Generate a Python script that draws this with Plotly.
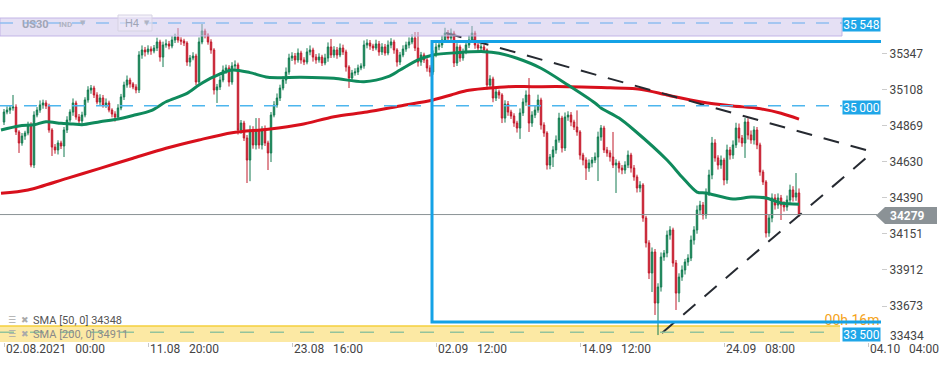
import plotly.graph_objects as go

# ---------------- data ----------------
first_open = 34892
closes = [
    34958, 34971, 34985, 34991, 34826, 34753, 34799, 34819, 34872, 34607,
    34938, 34971, 35005, 35018, 34998, 34839, 34726, 34707, 34753, 34733,
    34839, 34905, 34958, 35018, 34925, 34899, 34938, 35038, 35104, 35117,
    35071, 35024, 35051, 35005, 35018, 34971, 34945, 34925, 34985, 35058,
    35137, 35170, 35144, 35124, 35104, 35336, 35369, 35356, 35375, 35362,
    35382, 35422, 35322, 35402, 35409, 35395, 35435, 35455, 35435, 35428,
    35415, 35289, 35316, 35329, 35157, 35422, 35495, 35468, 35422, 35369,
    35104, 35124, 35170, 35236, 35250, 35157, 35263, 35270, 34839, 34885,
    34786, 34640, 34839, 34740, 34839, 34740, 34839, 34753, 34687, 34938,
    35005, 35051, 35117, 35170, 35223, 35316, 35329, 35303, 35349, 35303,
    35289, 35356, 35369, 35322, 35303, 35322, 35283, 35316, 35389, 35336,
    35369, 35336, 35382, 35356, 35256, 35183, 35217, 35223, 35250, 35263,
    35402, 35415, 35395, 35382, 35409, 35356, 35389, 35349, 35402, 35422,
    35369, 35289, 35336, 35375, 35402, 35422, 35448, 35382, 35289, 35336,
    35303, 35250, 35223, 35336, 35389, 35402, 35435, 35481, 35448, 35481,
    35283, 35389, 35316, 35356, 35402, 35435, 35481, 35402, 35382, 35389,
    35369, 35137, 35177, 35051, 35091, 35071, 34918, 35011, 34958, 34932,
    34885, 34852, 34952, 35024, 35071, 34885, 34938, 34971, 35038, 34872,
    34819, 34607, 34660, 34707, 34773, 34918, 34720, 34925, 34938, 34892,
    34859, 34826, 34673, 34640, 34587, 34620, 34640, 34660, 34793, 34852,
    34707, 34687, 34660, 34607, 34620, 34587, 34574, 34607, 34673, 34587,
    34528, 34455, 34475, 34256, 34091, 33892, 34031, 33693, 33799, 33998,
    34024, 34143, 34177, 33958, 33759, 33865, 33912, 33965, 33991, 34110,
    34177, 34309, 34342, 34276, 34422, 34541, 34753, 34654, 34607, 34640,
    34508, 34707, 34673, 34740, 34852, 34786, 34753, 34892, 34806, 34773,
    34839, 34740, 34561, 34495, 34157, 34256, 34389, 34342, 34389, 34342,
    34329, 34375, 34442, 34395, 34422, 34279,
]
upper_wick = [
    20, 25, 15, 80, 18, 12, 20, 15, 22, 18,
    25, 20, 30, 22, 18, 15, 12, 20, 18, 15,
    20, 25, 18, 30, 15, 20, 22, 18, 25, 20,
    15, 18, 25, 20, 30, 15, 12, 18, 25, 20,
    22, 30, 15, 12, 18, 25, 30, 20, 25, 18,
    20, 28, 15, 22, 30, 20, 25, 22, 59, 18,
    15, 12, 20, 25, 15, 30, 46, 15, 12, 18,
    12, 20, 25, 30, 22, 18, 25, 30, 15, 20,
    15, 20, 30, 25, 79, 79, 25, 30, 15, 20,
    25, 30, 22, 25, 30, 28, 25, 20, 30, 15,
    18, 25, 30, 15, 20, 25, 15, 28, 30, 53,
    25, 20, 30, 22, 15, 12, 20, 25, 22, 18,
    30, 25, 20, 15, 28, 20, 25, 20, 30, 25,
    15, 12, 20, 25, 22, 30, 25, 40, 106, 20,
    15, 12, 18, 30, 25, 22, 30, 35, 20, 30,
    15, 25, 15, 22, 28, 30, 47, 15, 18, 20,
    15, 10, 25, 15, 30, 15, 12, 25, 20, 15,
    18, 15, 30, 25, 30, 112, 25, 30, 35, 15,
    18, 12, 20, 25, 30, 35, 15, 30, 25, 20,
    15, 110, 12, 15, 18, 25, 20, 30, 35, 20,
    15, 20, 18, 166, 25, 15, 20, 25, 30, 15,
    20, 15, 25, 12, 15, 18, 30, 20, 25, 30,
    20, 30, 25, 15, 20, 25, 30, 20, 25, 30,
    25, 30, 28, 20, 30, 35, 40, 25, 18, 30,
    15, 35, 20, 30, 35, 30, 20, 26, 25, 30,
    25, 20, 15, 15, 12, 25, 30, 25, 30, 20,
    25, 30, 35, 25, 132, 30,
]
lower_wick = [
    20, 15, 25, 18, 20, 66, 18, 25, 15, 15,
    20, 15, 18, 25, 20, 18, 59, 25, 30, 20,
    73, 20, 15, 25, 18, 30, 20, 15, 18, 25,
    20, 15, 25, 18, 20, 15, 22, 30, 18, 15,
    20, 18, 25, 15, 22, 20, 25, 30, 18, 25,
    15, 20, 30, 66, 18, 22, 15, 20, 18, 25,
    20, 25, 30, 15, 20, 18, 15, 22, 18, 25,
    30, 86, 20, 15, 25, 30, 18, 20, 30, 25,
    20, 152, 140, 25, 30, 25, 30, 20, 113, 60,
    15, 18, 20, 15, 25, 18, 20, 30, 18, 25,
    20, 15, 22, 30, 25, 18, 20, 15, 25, 20,
    18, 25, 15, 20, 30, 66, 25, 18, 20, 15,
    18, 22, 25, 20, 15, 25, 20, 18, 15, 22,
    25, 30, 20, 15, 18, 22, 15, 20, 30, 25,
    20, 25, 30, 18, 15, 22, 20, 18, 25, 15,
    27, 20, 25, 18, 15, 20, 18, 25, 20, 22,
    20, 30, 25, 28, 20, 25, 33, 30, 25, 20,
    25, 30, 72, 20, 25, 59, 25, 20, 18, 30,
    25, 30, 28, 66, 25, 18, 30, 20, 25, 28,
    20, 25, 30, 35, 79, 25, 28, 20, 159, 25,
    20, 25, 30, 20, 185, 30, 28, 25, 20, 30,
    25, 30, 28, 25, 30, 40, 126, 79, 212, 30,
    25, 28, 30, 25, 112, 60, 25, 30, 25, 20,
    30, 25, 28, 30, 25, 20, 28, 25, 30, 25,
    35, 25, 30, 25, 20, 30, 25, 99, 30, 25,
    30, 28, 25, 20, 30, 25, 28, 30, 25, 99,
    30, 25, 20, 30, 25, 15,
]

# moving averages (candle index -> value)
sma50_idx = [-1, 5, 10, 14, 19, 23, 26, 32, 38, 43, 49, 54, 61, 65, 70, 76, 82, 88, 99,
             110, 120, 128, 132, 138, 143, 151, 160, 165, 171, 179, 188, 197, 199, 205,
             210, 221, 226, 231, 234, 243, 249, 254, 259, 265]
sma50 = [34839, 34866, 34874, 34894, 34883, 34879, 34874, 34894, 34912, 34935, 34967,
         35026, 35082, 35137, 35192, 35236, 35219, 35188, 35188, 35181, 35159, 35192,
         35236, 35303, 35336, 35351, 35358, 35347, 35314, 35248, 35137, 35018, 34985,
         34918, 34839, 34640, 34528, 34428, 34422, 34382, 34395, 34389, 34356, 34348]
sma200_idx = [-1, 8, 21, 32, 43, 54, 65, 76, 88, 99, 110, 121, 132, 143, 149, 154, 161,
              168, 176, 188, 199, 212, 221, 232, 243, 251, 259, 265]
sma200 = [34420, 34442, 34519, 34585, 34652, 34718, 34773, 34821, 34844, 34875, 34927,
          34958, 34998, 35038, 35071, 35099, 35115, 35126, 35126, 35126, 35120, 35109,
          35071, 35026, 34998, 34983, 34950, 34911]

x_tick_idx = [0, 48, 96, 144, 192, 240, 288]
x_tick_text = ["02.08.2021\u00a0\u00a0 00:00", "11.08\u00a0\u00a0 20:00", "23.08\u00a0\u00a0 16:00",
               "02.09\u00a0\u00a0 12:00", "14.09\u00a0\u00a0 12:00", "24.09\u00a0\u00a0 08:00",
               "04.10\u00a0\u00a0 04:00"]
y_ticks = [35347, 35108, 34869, 34630, 34390, 34151, 33912, 33673]
y_tick_low = 33434

resistance = 35548
level_mid = 35000
support = 33500
last_price = 34279
sma50_last = 34348
sma200_last = 34911

# ---------------- derived ohlc ----------------
n = len(closes)
idx = list(range(n))
opens = [first_open] + closes[:-1]
highs = [max(o, c) + u for o, c, u in zip(opens, closes, upper_wick)]
lows = [min(o, c) - l for o, c, l in zip(opens, closes, lower_wick)]

# ---------------- layout geometry ----------------
W, H = 950, 367
PW, PH = 881, 342          # plot area in px
XR = [-4 / 3, (PW - 4) / 3]
YR = [33435, 35700]


def pxx(p):  # pixel x -> paper
    return p / PW


def pxy(p):  # pixel y -> paper
    return 1 - p / PH


def xk(p):  # pixel x -> candle axis
    return (p - 4) / 3


def yv(p):  # pixel y -> price axis
    return YR[1] - p * (YR[1] - YR[0]) / PH


FONT = "Roboto"

fig = go.Figure()
fig.add_trace(go.Candlestick(
    x=idx, open=opens, high=highs, low=lows, close=closes,
    increasing=dict(line=dict(color="#137a50", width=1), fillcolor="#25a06a"),
    decreasing=dict(line=dict(color="#c01a2b", width=1), fillcolor="#e63a4c"),
    whiskerwidth=0, hoverinfo="skip", showlegend=False))
fig.add_trace(go.Scatter(x=sma200_idx, y=sma200, mode="lines",
                         line=dict(color="#d8101c", width=3, shape="spline", smoothing=0.8),
                         hoverinfo="skip", showlegend=False))
fig.add_trace(go.Scatter(x=sma50_idx, y=sma50, mode="lines",
                         line=dict(color="#0f8a5c", width=3, shape="spline", smoothing=0.8),
                         hoverinfo="skip", showlegend=False))
fig.add_trace(go.Scatter(x=[xk(852)], y=[yv(321)], mode="text", text=["00h 16m"],
                         textfont=dict(color="#f5a31a", size=14, family=FONT),
                         textposition="middle center", hoverinfo="skip",
                         showlegend=False, cliponaxis=False))

shapes = []
# yellow support zone
shapes.append(dict(type="rect", xref="paper", yref="y", x0=0, x1=pxx(840),
                   y0=YR[0] - 50, y1=yv(326), fillcolor="#fce9a4",
                   line=dict(width=0), layer="below"))
shapes.append(dict(type="line", xref="paper", yref="y", x0=0, x1=pxx(840),
                   y0=yv(326), y1=yv(326), line=dict(color="#f5cf3c", width=1.5), layer="below"))
# triangle lines
shapes.append(dict(type="line", xref="x", yref="y", x0=xk(446), y0=yv(33), x1=xk(873), y1=yv(152),
                   line=dict(color="#262a31", width=2, dash="16px,12px")))
shapes.append(dict(type="line", xref="x", yref="y", x0=xk(662), y0=support - 5, x1=xk(873), y1=yv(152),
                   line=dict(color="#262a31", width=2, dash="16px,12px")))
# lavender resistance zone
shapes.append(dict(type="rect", xref="paper", yref="y", x0=0, x1=pxx(842),
                   y0=yv(36), y1=yv(18), fillcolor="rgba(206,195,234,0.52)",
                   line=dict(color="rgba(190,175,228,0.9)", width=1)))
# dashed horizontal levels
shapes.append(dict(type="line", xref="paper", yref="y", x0=0, x1=pxx(842), y0=resistance, y1=resistance,
                   line=dict(color="#8fbdf0", width=1.5, dash="13px,11px")))
shapes.append(dict(type="line", xref="paper", yref="y", x0=0, x1=pxx(842), y0=level_mid, y1=level_mid,
                   line=dict(color="#4db6ee", width=1.5, dash="13px,11px")))
shapes.append(dict(type="line", xref="paper", yref="y", x0=0, x1=pxx(840), y0=support, y1=support,
                   line=dict(color="#93c39c", width=1.5, dash="14px,16px")))
# last price line
shapes.append(dict(type="line", xref="paper", yref="y", x0=0, x1=pxx(877), y0=last_price, y1=last_price,
                   line=dict(color="#8a9296", width=1)))
# blue box (open on the right)
bx0, bx1 = xk(432), XR[1] + 2
bt, bb = yv(41.5), yv(322)
shapes.append(dict(type="path", xref="x", yref="y",
                   path=f"M {bx1},{bt} L {bx0},{bt} L {bx0},{bb} L {bx1},{bb}",
                   line=dict(color="#14a2e6", width=3)))
# price label box for last price (arrow shape)
pts = [(876, 215.5), (885, 207), (937, 207), (937, 224), (885, 224)]
path = "M " + " L ".join(f"{pxx(a)},{pxy(b)}" for a, b in pts) + " Z"
shapes.append(dict(type="path", xref="paper", yref="paper", path=path,
                   fillcolor="#8b9296", line=dict(width=0)))
# H4 box
shapes.append(dict(type="rect", xref="paper", yref="paper", x0=pxx(118), x1=pxx(152),
                   y0=pxy(31), y1=pxy(15), line=dict(color="#d6d3e3", width=1),
                   fillcolor="rgba(236,232,246,0.6)"))

ann = []
for k, t in zip(x_tick_idx, x_tick_text):
    ann.append(dict(x=k, y=0, xref="x", yref="paper", text=t, showarrow=False,
                    xanchor="left", yanchor="top", xshift=0, yshift=2,
                    font=dict(family=FONT, size=12, color="#444")))
ann.append(dict(x=pxx(888), y=pxy(336), xref="paper", yref="paper", text=str(y_tick_low),
                showarrow=False, xanchor="left", yanchor="middle",
                font=dict(family=FONT, size=12, color="#444")))


def box(val, text, py):
    ann.append(dict(x=pxx(861.5), y=pxy(py), xref="paper", yref="paper", text=text,
                    showarrow=False, xanchor="center", yanchor="middle",
                    width=37, height=13, bgcolor="#1fa6e8", borderpad=0,
                    font=dict(family=FONT, size=12, color="white")))


box(resistance, "35\u2009548", 24.8)
box(level_mid, "35\u2009000", 107)
box(support, "33\u2009500", 334.3)
ann.append(dict(x=pxx(907), y=pxy(215.5), xref="paper", yref="paper", text=f"<b>{last_price}</b>",
                showarrow=False, xanchor="center", yanchor="middle",
                font=dict(family=FONT, size=12, color="white")))
# header
ann.append(dict(x=pxx(20), y=pxy(24), xref="paper", yref="paper", text="<b>US30</b>", showarrow=False,
                xanchor="left", yanchor="middle", font=dict(family=FONT, size=11, color="#a0a5b6")))
ann.append(dict(x=pxx(57), y=pxy(24.5), xref="paper", yref="paper", text="<b>IND</b>", showarrow=False,
                xanchor="left", yanchor="middle", font=dict(family=FONT, size=8, color="#b0b4c3")))
ann.append(dict(x=pxx(78), y=pxy(23), xref="paper", yref="paper", text="▼", showarrow=False,
                xanchor="left", yanchor="middle", font=dict(family="DejaVu Sans", size=7, color="#b0b4c3")))
ann.append(dict(x=pxx(123), y=pxy(23.5), xref="paper", yref="paper", text="H4", showarrow=False,
                xanchor="left", yanchor="middle", font=dict(family=FONT, size=11, color="#a0a5b6")))
ann.append(dict(x=pxx(142), y=pxy(23), xref="paper", yref="paper", text="▼", showarrow=False,
                xanchor="left", yanchor="middle", font=dict(family="DejaVu Sans", size=7, color="#b0b4c3")))
# indicator legend
for py, txt, col in [(320, f"SMA [50, 0] {sma50_last}", "#555"),
                     (334, f"SMA [200, 0] {sma200_last}", "#8a8a8a")]:
    ann.append(dict(x=pxx(6), y=pxy(py), xref="paper", yref="paper", text="☰", showarrow=False,
                    xanchor="left", yanchor="middle", font=dict(family="DejaVu Sans", size=9, color="#aaa")))
    ann.append(dict(x=pxx(19), y=pxy(py), xref="paper", yref="paper", text="✖", showarrow=False,
                    xanchor="left", yanchor="middle", font=dict(family="DejaVu Sans", size=9, color="#aaa")))
    ann.append(dict(x=pxx(31), y=pxy(py), xref="paper", yref="paper", text=txt, showarrow=False,
                    xanchor="left", yanchor="middle", font=dict(family=FONT, size=11, color=col)))

fig.update_layout(
    width=W, height=H, margin=dict(l=0, r=W - PW, t=0, b=H - PH),
    paper_bgcolor="white", plot_bgcolor="white",
    shapes=shapes, annotations=ann, showlegend=False, hovermode=False,
    font=dict(family=FONT),
    xaxis=dict(range=XR, rangeslider=dict(visible=False), showgrid=False, zeroline=False,
               showline=False, tickvals=x_tick_idx, ticktext=[""] * len(x_tick_idx),
               ticks="outside", ticklen=4, tickcolor="#c8c8c8", fixedrange=True),
    yaxis=dict(range=YR, side="right", showgrid=False, zeroline=False, showline=False,
               tickvals=y_ticks, ticktext=[str(v) for v in y_ticks], ticks="outside",
               ticklen=5, tickcolor="#cccccc", tickfont=dict(family=FONT, size=12, color="#444"),
               fixedrange=True),
)

fig.write_html("out.html", config={"displayModeBar": False})
